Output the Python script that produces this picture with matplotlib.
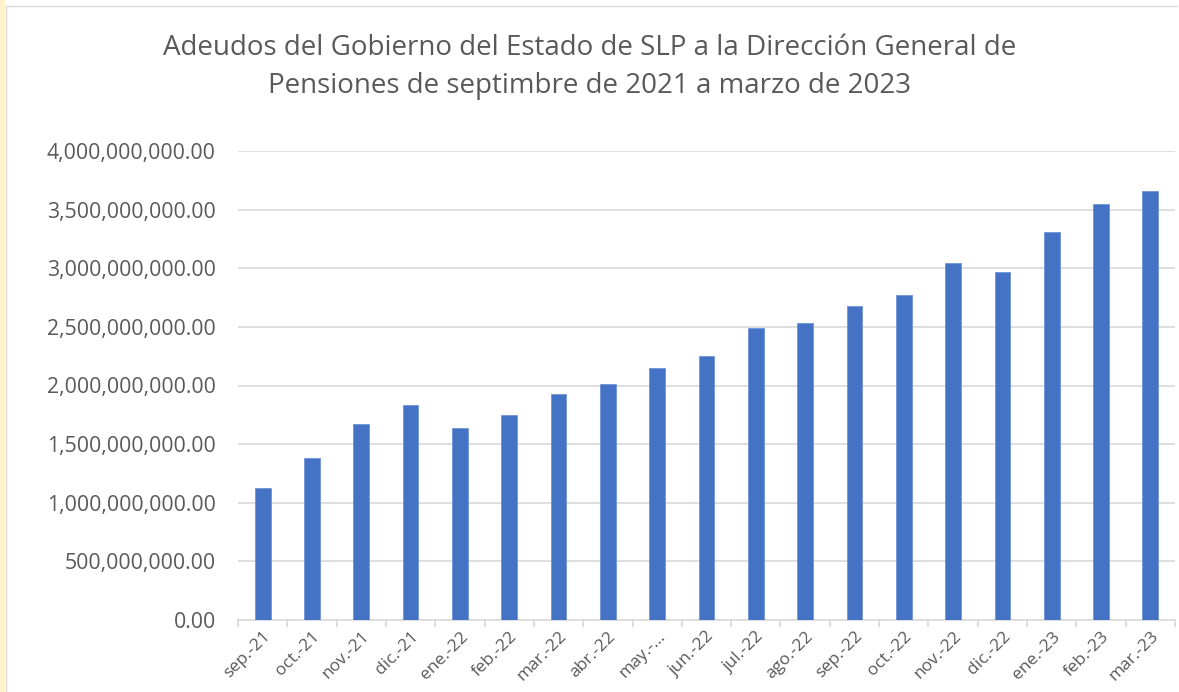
import matplotlib
matplotlib.use("Agg")
import matplotlib.pyplot as plt
from matplotlib.patches import Rectangle
from matplotlib.lines import Line2D
from matplotlib.ticker import FuncFormatter, FixedLocator
import numpy as np

categories = ["sep.-21", "oct.-21", "nov.-21", "dic.-21", "ene.-22", "feb.-22",
              "mar.-22", "abr.-22", "may.-…", "jun.-22", "jul.-22", "ago.-22",
              "sep.-22", "oct.-22", "nov.-22", "dic.-22", "ene.-23", "feb.-23",
              "mar.-23"]
values = [1.126e9, 1.382e9, 1.672e9, 1.834e9, 1.638e9, 1.748e9, 1.927e9,
          2.013e9, 2.149e9, 2.252e9, 2.490e9, 2.533e9, 2.678e9, 2.772e9,
          3.045e9, 2.968e9, 3.309e9, 3.548e9, 3.659e9]
title = "Adeudos del Gobierno del Estado de SLP a la Dirección General de\nPensiones de septimbre de 2021 a marzo de 2023"

plt.rcParams['font.family'] = ['Open Sans', 'DejaVu Sans']

W, H = 1179, 692
fig = plt.figure(figsize=(W / 100, H / 100), dpi=100)
fig.patch.set_facecolor("white")

# outer frame decorations
fig.add_artist(Rectangle((0, 0), 5 / W, 1, transform=fig.transFigure,
                         facecolor="#fff2cc", edgecolor="none"))
fig.add_artist(Line2D([6 / W, 6 / W], [0, 1 - 6 / H], transform=fig.transFigure,
                      color="#d9d9d9", lw=1))
fig.add_artist(Line2D([6 / W, 1 - 2 / W], [1 - 6 / H, 1 - 6 / H], transform=fig.transFigure,
                      color="#d9d9d9", lw=1))

left, right = 238 / W, 1175 / W
bottom, top = 1 - 620 / H, 1 - 151 / H
ax = fig.add_axes([left, bottom, right - left, top - bottom])

x = np.arange(len(categories))
ax.bar(x, values, width=0.32, color="#4472c4", edgecolor="#6f93d6", linewidth=0.6, zorder=3)

ax.set_xlim(-0.5, len(categories) - 0.5)
ax.set_ylim(0, 4e9)
ax.set_yticks(np.arange(0, 4.01e9, 5e8))
ax.yaxis.set_major_formatter(FuncFormatter(lambda v, p: f"{v:,.2f}"))
ax.grid(axis="y", color="#d9d9d9", lw=1.2, zorder=0)
ax.tick_params(axis="y", length=0, pad=16, labelsize=15.3, labelcolor="#595959")

ax.set_xticks(x)
ax.set_xticklabels(categories, rotation=45, ha="right", rotation_mode="anchor",
                   fontsize=12.5, color="#595959")
ax.tick_params(axis="x", which="major", length=0, pad=6)
ax.xaxis.set_minor_locator(FixedLocator(np.arange(-0.5, len(categories), 1.0)))
ax.tick_params(axis="x", which="minor", length=5, color="#d9d9d9", width=1.2)

for s in ["top", "right", "left"]:
    ax.spines[s].set_visible(False)
ax.spines["bottom"].set_color("#d9d9d9")
ax.spines["bottom"].set_linewidth(1.2)

fig.text(0.5, 1 - 67 / H, title, ha="center", va="center",
         fontsize=20, color="#595959", linespacing=1.5)

fig.savefig("out.png", dpi=100)
